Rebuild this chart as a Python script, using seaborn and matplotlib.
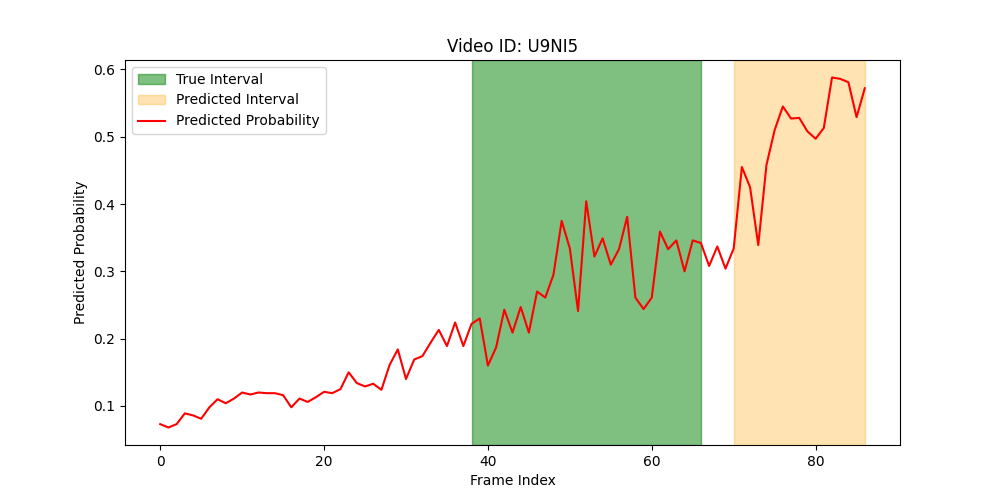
import matplotlib
matplotlib.use("Agg")
import matplotlib.pyplot as plt
import seaborn as sns
import numpy as np

probs = [0.073,0.068,0.073,0.089,0.086,0.081,0.098,0.110,0.104,0.111,0.120,0.117,0.120,0.119,0.119,0.116,0.098,0.111,0.106,0.113,
         0.121,0.119,0.125,0.150,0.134,0.129,0.133,0.124,0.161,0.184,0.140,0.169,0.174,0.194,0.213,0.189,0.224,0.189,0.222,0.230,
         0.160,0.187,0.243,0.209,0.247,0.209,0.270,0.261,0.295,0.375,0.334,0.241,0.404,0.322,0.349,0.310,0.333,0.381,0.261,0.244,
         0.261,0.359,0.333,0.346,0.300,0.346,0.342,0.308,0.337,0.304,0.334,0.455,0.425,0.339,0.458,0.510,0.545,0.527,0.528,0.508,
         0.497,0.513,0.588,0.586,0.581,0.529,0.572]
frames = list(range(len(probs)))
true_interval = (38, 66)
pred_interval = (70, 86)

fig, ax = plt.subplots(figsize=(10, 5), dpi=100)
ax.axvspan(*true_interval, color="green", alpha=0.5, label="True Interval")
ax.axvspan(*pred_interval, color="orange", alpha=0.3, label="Predicted Interval")
sns.lineplot(x=frames, y=probs, color="red", ax=ax, label="Predicted Probability")
ax.set_title("Video ID: U9NI5")
ax.set_xlabel("Frame Index")
ax.set_ylabel("Predicted Probability")
ax.legend(loc="upper left")
fig.savefig("out.png")
